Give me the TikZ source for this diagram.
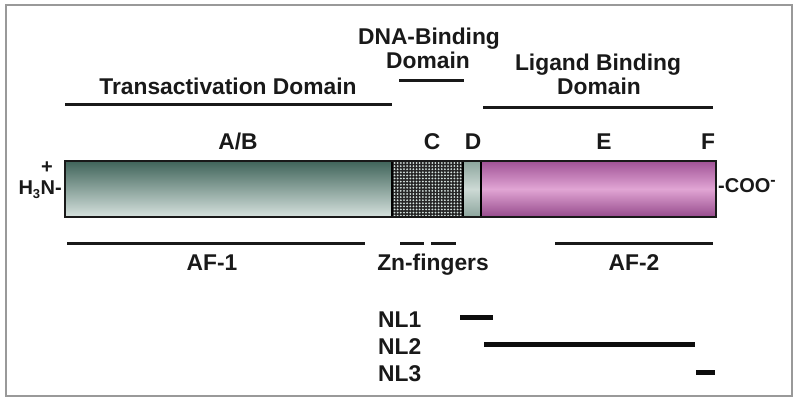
\documentclass[tikz,border=0pt]{standalone}
\usepackage{fontspec}
\setmainfont{Liberation Sans}
\begin{document}
\begin{tikzpicture}[x=1pt,y=-1pt,
  lbl/.style={font=\fontsize{22.8}{26}\selectfont\bfseries, inner sep=0pt, anchor=base, text=black!90},
  term/.style={font=\fontsize{20}{24}\selectfont\bfseries, inner sep=0pt, text=black!90},
  dline/.style={line width=3pt, black!90},
  nline/.style={line width=5pt, black!95}]
\definecolor{abtop}{RGB}{64,100,90}
\definecolor{abbot}{RGB}{214,226,222}
\definecolor{eftop}{RGB}{160,82,150}
\definecolor{efmid}{RGB}{225,165,212}
\definecolor{efbot}{RGB}{150,75,140}
\definecolor{dtop}{RGB}{140,165,157}
\definecolor{dmid}{RGB}{205,218,213}
\definecolor{cdot}{RGB}{215,228,224}
\useasboundingbox (0,0) rectangle (800,403);
\draw[gray!80, line width=2.5pt] (6,5) rectangle (792,396);

% bar
\shade[top color=abtop, bottom color=abbot] (65,161) rectangle (392,217);
\fill[black!85] (392,161) rectangle (463,217);
\foreach \i in {0,...,21} {\foreach \j in {0,...,17} {
  \fill[cdot] (394.5+\i*3.15, 163+\j*3.1) circle (1.0);
}}
\shade[top color=dtop, bottom color=dtop, middle color=dmid] (463,161) rectangle (481,217);
\shade[top color=eftop, bottom color=efbot, middle color=efmid] (481,161) rectangle (716,217);
\draw[line width=2.2pt] (392,161) -- (392,217);
\draw[line width=2pt] (463,161) -- (463,217);
\draw[line width=1.6pt] (481,161) -- (481,217);
\draw[line width=2.6pt, black!90] (65,161) rectangle (716,217);

% termini
\node[term, anchor=base east] (nterm) at (62,195) {H\textsubscript{\fontsize{13}{14}\selectfont 3}N-};
\node[term] (plus) at (47,168) {+};
\node[term, anchor=base west] (cterm) at (718,193) {-COO\textsuperscript{\fontsize{16}{16}\selectfont -}};

% region letters
\node[lbl] (ab) at (238,150) {A/B};
\node[lbl] (c) at (432,150) {C};
\node[lbl] (d) at (473,150) {D};
\node[lbl] (e) at (604,150) {E};
\node[lbl] (f) at (708,150) {F};

% domain headings
\node[lbl] (td) at (228,95) {Transactivation Domain};
\node[lbl] (dbd1) at (429,45) {DNA-Binding};
\node[lbl] (dbd2) at (428,69) {Domain};
\node[lbl] (lbd1) at (598,71) {Ligand Binding};
\node[lbl] (lbd2) at (599,95) {Domain};
\draw[dline] (65,105) -- (392,105);
\draw[dline] (399,81) -- (464,81);
\draw[dline] (483,108) -- (713,108);

% lower annotations
\draw[dline] (67,244) -- (365,244);
\draw[dline] (400,244) -- (424,244);
\draw[dline] (431,244) -- (456,244);
\draw[dline] (555,244) -- (713,244);
\node[lbl] (af1) at (212,271) {AF-1};
\node[lbl] (zn) at (433,271) {Zn-fingers};
\node[lbl] (af2) at (634,271) {AF-2};

% NL
\node[lbl, anchor=base west] (nl1) at (378,327) {NL1};
\node[lbl, anchor=base west] (nl2) at (378,354) {NL2};
\node[lbl, anchor=base west] (nl3) at (378,381) {NL3};
\draw[nline] (460,317) -- (493,317);
\draw[nline] (484,344) -- (695,344);
\draw[nline] (696,372) -- (715,372);
\end{tikzpicture}
\end{document}
